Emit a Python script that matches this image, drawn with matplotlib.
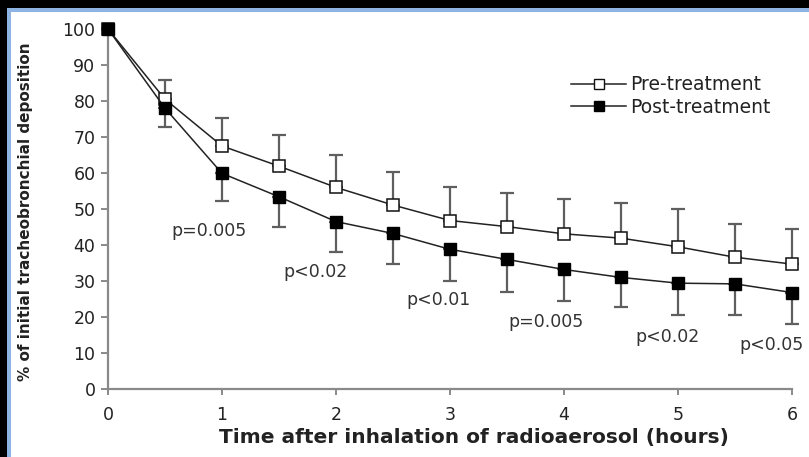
import matplotlib
matplotlib.use("Agg")
import matplotlib.pyplot as plt
from matplotlib.patches import Rectangle
from matplotlib.lines import Line2D
import numpy as np

# time after inhalation (hours)
hours = [0, 0.5, 1, 1.5, 2, 2.5, 3, 3.5, 4, 4.5, 5, 5.5, 6]

# % of initial deposition
pre_mean = [100, 80.5, 67.5, 61.9, 56.0, 51.1, 46.8, 45.1, 43.1, 41.9, 39.5, 36.6, 34.7]
pre_top = [100, 85.8, 75.2, 70.6, 65.0, 60.4, 56.0, 54.5, 52.8, 51.8, 49.9, 45.8, 44.4]
post_mean = [100, 78.0, 59.9, 53.4, 46.5, 43.2, 38.8, 36.0, 33.2, 31.0, 29.4, 29.2, 26.8]
post_bottom = [100, 72.7, 52.2, 45.1, 38.0, 34.6, 30.0, 27.0, 24.4, 22.7, 20.6, 20.6, 18.1]

# p-value notes (x, y, text)
p_x = [0.89, 1.82, 2.895, 3.84, 4.91, 5.535]
p_y = [44.0, 32.5, 24.7, 18.7, 14.4, 12.2]
p_txt = ["p=0.005", "p<0.02", "p<0.01", "p=0.005", "p<0.02", "p<0.05"]

plt.rcParams['font.family'] = ['DejaVu Sans']

W, H = 809, 457
fig = plt.figure(figsize=(W / 100, H / 100), dpi=100, facecolor='black')
# light blue frame and white panel, kept behind the axes
fig.patches.append(Rectangle((7 / W, 0), 1, (H - 8) / H, transform=fig.transFigure,
                             facecolor='#8db4e2', edgecolor='none', zorder=-10))
fig.patches.append(Rectangle((11 / W, 0), 1, (H - 12) / H, transform=fig.transFigure,
                             facecolor='white', edgecolor='none', zorder=-9))

ax = fig.add_axes([108 / W, 1 - 389 / H, (792 - 108) / W, (389 - 29) / H])
ax.set_facecolor('none')

pre_mean = np.array(pre_mean)
post_mean = np.array(post_mean)
pre_err = np.array(pre_top) - pre_mean
post_err = post_mean - np.array(post_bottom)
zeros = np.zeros_like(pre_err)

ecol = '#5f5f5f'
ax.errorbar(hours, pre_mean, yerr=[zeros, pre_err], fmt='none', ecolor=ecol,
            elinewidth=1.6, capsize=5, capthick=1.6, zorder=2, clip_on=False)
ax.errorbar(hours, post_mean, yerr=[post_err, zeros], fmt='none', ecolor=ecol,
            elinewidth=1.6, capsize=5, capthick=1.6, zorder=2, clip_on=False)

ax.plot(hours, pre_mean, color='#222222', lw=1.1, marker='s', markersize=8,
        markerfacecolor='white', markeredgecolor='#111111', markeredgewidth=1.1,
        zorder=3, clip_on=False)
ax.plot(hours, post_mean, color='#222222', lw=1.1, marker='s', markersize=8,
        markerfacecolor='black', markeredgecolor='black', zorder=4, clip_on=False)

for x, y, t in zip(p_x, p_y, p_txt):
    ha = 'left' if x > 5.5 else 'center'
    ax.text(x, y, t, ha=ha, va='center', fontsize=12.5, color='#333333', clip_on=False)

ax.set_xlim(0, 6)
ax.set_ylim(0, 100)
ax.set_xticks(range(0, 7))
ax.set_yticks(range(0, 101, 10))
for s in ['top', 'right']:
    ax.spines[s].set_visible(False)
for s in ['left', 'bottom']:
    ax.spines[s].set_color('#8a8a8a')
    ax.spines[s].set_linewidth(1.6)
ax.tick_params(axis='x', direction='out', length=4, width=1.4, color='#8a8a8a',
               pad=8, labelsize=12.5, labelcolor='#222222')
ax.tick_params(axis='y', direction='out', length=5, width=1.4, color='#8a8a8a',
               pad=4, labelsize=12.5, labelcolor='#222222')

fig.text(474 / W, 1 - 438 / H, 'Time after inhalation of radioaerosol (hours)',
         ha='center', va='center', fontsize=14.5, fontweight='bold', color='#222222')
fig.text(26 / W, 1 - 212 / H, '% of initial tracheobronchial deposition',
         ha='center', va='center', rotation=90, fontsize=11, fontweight='bold',
         color='#222222')

h_pre = Line2D([], [], color='#222222', lw=1.1, marker='s', markersize=7,
               markerfacecolor='white', markeredgecolor='#111111')
h_post = Line2D([], [], color='#222222', lw=1.1, marker='s', markersize=7,
                markerfacecolor='black', markeredgecolor='black')
ax.legend([h_pre, h_post], ['Pre-treatment', 'Post-treatment'], frameon=False,
          loc='center left', bbox_to_anchor=(562 / W, 1 - 96 / H),
          bbox_transform=fig.transFigure, handlelength=2.9, handletextpad=0.25,
          labelspacing=0.2, fontsize=13.5, borderpad=0, labelcolor='#222222')

fig.savefig('out.png', dpi=100, facecolor=fig.get_facecolor())
